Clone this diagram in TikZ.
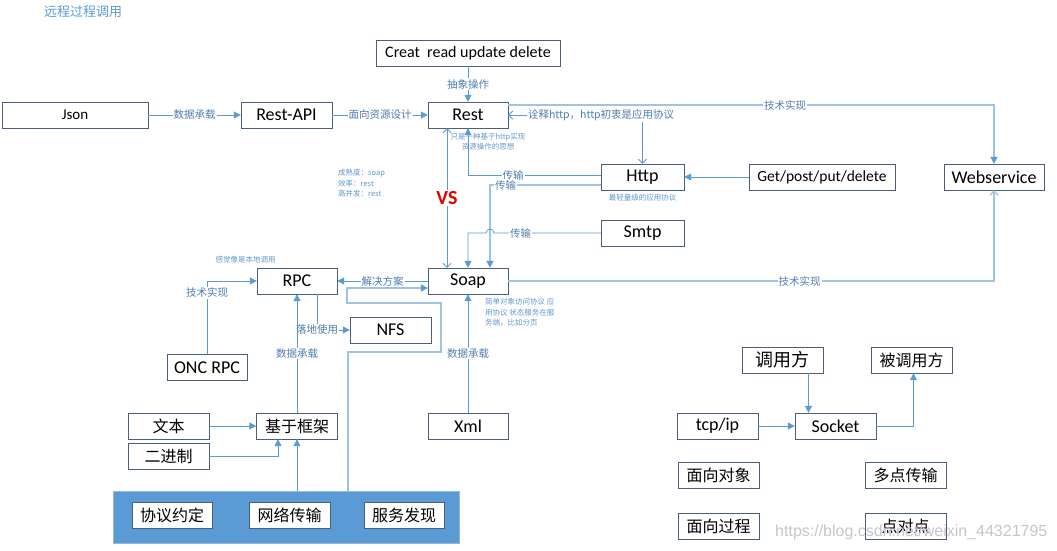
\documentclass[tikz,border=0pt]{standalone}
\usepackage{fontspec}
\setmainfont{Carlito}
\newfontfamily\cjk{Noto Sans CJK SC}
\newfontfamily\wmfont{Liberation Sans}
\usetikzlibrary{arrows.meta}

\begin{document}
\begin{tikzpicture}[
  x=1pt, y=-1pt,
  box/.style={draw=boxline, fill=white, minimum width=81pt, minimum height=26pt, inner sep=0pt, font=\fontsize{18}{20}\selectfont},
  cbox/.style={box, font=\cjk\fontsize{16}{18}\selectfont},
  lbl/.style={fill=white, text=lbltext, inner sep=1pt, font=\cjk\fontsize{10.5}{12}\selectfont},
  note/.style={text=notetext, inner sep=0pt, align=left, font=\cjk\fontsize{7.5}{10.5}\selectfont},
  arr/.style={draw=wire, line width=0.8pt, -{Triangle[length=7pt,width=7pt]}},
  arrlight/.style={draw=wirelight, line width=1.4pt, -{Triangle[length=7pt,width=7pt,color=wire]}},
  barb/.style={draw=wire, line width=0.8pt, {Straight Barb[length=4pt,width=8pt]}-{Straight Barb[length=4pt,width=8pt]}},
  barblight/.style={draw=wirelight, line width=1.4pt, -{Straight Barb[length=4pt,width=8pt]}},
]
\definecolor{boxline}{RGB}{75,95,125}
\definecolor{wire}{RGB}{91,155,213}
\definecolor{wirelight}{RGB}{157,195,230}
\definecolor{lbltext}{RGB}{80,125,175}
\definecolor{notetext}{RGB}{100,150,205}
\definecolor{barfill}{RGB}{91,155,213}
\definecolor{barline}{RGB}{150,185,220}

\useasboundingbox (0,0) rectangle (1057,551);

\node (title) [anchor=west, text=wire, inner sep=0pt, font=\cjk\fontsize{13}{15}\selectfont] at (44,12) {远程过程调用};

\node (creat) [box, minimum width=184pt, font=\fontsize{16}{18}\selectfont] at (468,53) {Creat\ \ read update delete};
\node (json) [box, minimum width=146pt, font=\fontsize{15}{17}\selectfont] at (75,115) {Json};
\node (restapi) [box, minimum width=91pt] at (286.5,115) {Rest-API};
\node (rest) [box, minimum width=80pt] at (468,115) {Rest};
\node (http) [box, minimum width=83pt] at (642.5,177) {Http};
\node (getpost) [box, minimum width=146pt, font=\fontsize{15.5}{17}\selectfont] at (822,177) {Get/post/put/delete};
\node (websvc) [box, minimum width=100pt] at (994,177) {Webservice};
\node (smtp) [box, minimum width=83pt] at (642.5,233) {Smtp};
\node (soap) [box, minimum width=80pt] at (468,281) {Soap};
\node (rpc) [box, minimum width=80pt] at (297,281) {RPC};
\node (nfs) [box] at (390.5,330) {NFS};
\node (onc) [box, minimum width=80pt] at (207,367.5) {ONC RPC};
\node (frame) [cbox] at (297,426) {基于框架};
\node (wenben) [cbox] at (168.5,426) {文本};
\node (erjin) [cbox] at (168.5,456) {二进制};
\node (xml) [box, minimum width=80pt] at (468,426) {Xml};

\node (bar) [draw=barline, line width=1pt, fill=barfill, minimum width=346pt, minimum height=52pt, inner sep=0pt] at (286,517) {};
\node (xieyi) [cbox, minimum width=80pt] at (172,515) {协议约定};
\node (wangluo) [cbox] at (289.5,515) {网络传输};
\node (fuwu) [cbox, minimum width=80pt] at (404,515) {服务发现};

\node (caller) [cbox, font=\cjk\fontsize{18}{20}\selectfont] at (782.5,360) {调用方};
\node (callee) [cbox] at (911.5,360) {被调用方};
\node (tcpip) [box] at (717.5,426) {tcp/ip};
\node (socket) [box] at (835.5,426) {Socket};
\node (oo) [cbox] at (718.5,475) {面向对象};
\node (multi) [cbox] at (905.5,475) {多点传输};
\node (proc) [cbox] at (718.5,526) {面向过程};
\node (p2p) [cbox] at (905.5,526) {点对点};

\node (restnote) [note, align=center] at (488,141.5) {只是一种基于http实现\\资源操作的思想};
\node (vsnote) [note, anchor=north west] at (338,169) {成熟度：soap\\效率：rest\\高并发：rest};
\node (httpnote) [note] at (642.5,198) {最轻量级的应用协议};
\node (rpcnote) [note] at (245.5,260) {感觉像是本地调用};
\node (soapnote) [note, anchor=north west] at (485,298) {简单对象访问协议 应\\用协议 状态服务在服\\务端，比如分页};

\draw [arr] (json) -- node [lbl] {数据承载} (restapi);
\draw [arr] (restapi) -- node [lbl] {面向资源设计} (rest);
\draw [arr] (creat) -- node [lbl] {抽象操作} (rest);
\draw [barb] (rest.east) -| node [lbl, pos=0.346] {诠释http，http初衷是应用协议} (http.north);
\draw [arrlight] ([yshift=10pt]rest.east) -| node [lbl, pos=0.285] {技术实现} (websvc.north);
\draw [arr] (getpost) -- (http);
\draw [arr] ([yshift=2pt]http.west) -| node [lbl, pos=0.33] {传输} (rest.south);
\draw [arrlight] ([yshift=-8pt]http.west) -| node [lbl, pos=0.43] {传输} ([xshift=22pt]soap.north);
\draw [arr] (smtp.west) -- node [lbl, pos=0.75] {传输} ([xshift=26pt]soap.north |- smtp.west)
  arc [start angle=0, end angle=180, radius=4pt] -- (soap.north |- smtp.west) -- (soap.north);
\draw [barb] ([xshift=-21pt]rest.south) -- node [fill=white, inner sep=1pt, text={rgb,255:red,230;green,0;blue,0}, font=\bfseries\fontsize{20}{22}\selectfont] {VS} ([xshift=-21pt]soap.north);
\draw [barblight] (soap.east) -| node [lbl, pos=0.3] {技术实现} (websvc.south);

\draw [arr] (soap.west) -- node [lbl] {解决方案} (rpc.east);
\coordinate (loopA) at (441,352);
\coordinate (loopB) at (347,303);
\draw [arrlight] ([xshift=-2pt]bar.north -| nfs.west) |- (loopA) |- (loopB) |- ([yshift=-7pt]soap.west);
\draw [arr] ([xshift=20pt]rpc.south) |- node [lbl] {落地使用} (nfs.west);
\draw [arr] (frame) -- node [lbl] {数据承载} (rpc);
\draw [arr] (onc.north) |- node [lbl, pos=0.42] {技术实现} (rpc.west);
\draw [arr] (wenben) -- (frame);
\draw [arr] (erjin.east) -| ([xshift=-19pt]frame.south);
\draw [arr] (bar.north -| frame.south) -- (frame.south);
\draw [arr] (xml) -- node [lbl] {数据承载} (soap);

\draw [arr] ([xshift=26pt]caller.south) -- ([xshift=26pt]caller.south |- socket.north);
\draw [arr] (socket.east) -| ([xshift=2pt]callee.south);
\draw [arr] (tcpip) -- (socket);

\node (watermark) [anchor=west, inner sep=0pt, text=gray!45, font=\wmfont\fontsize{16}{18}\selectfont] at (775,532) {https://blog.csdn.net/weixin\_44321795};

\end{tikzpicture}
\end{document}
